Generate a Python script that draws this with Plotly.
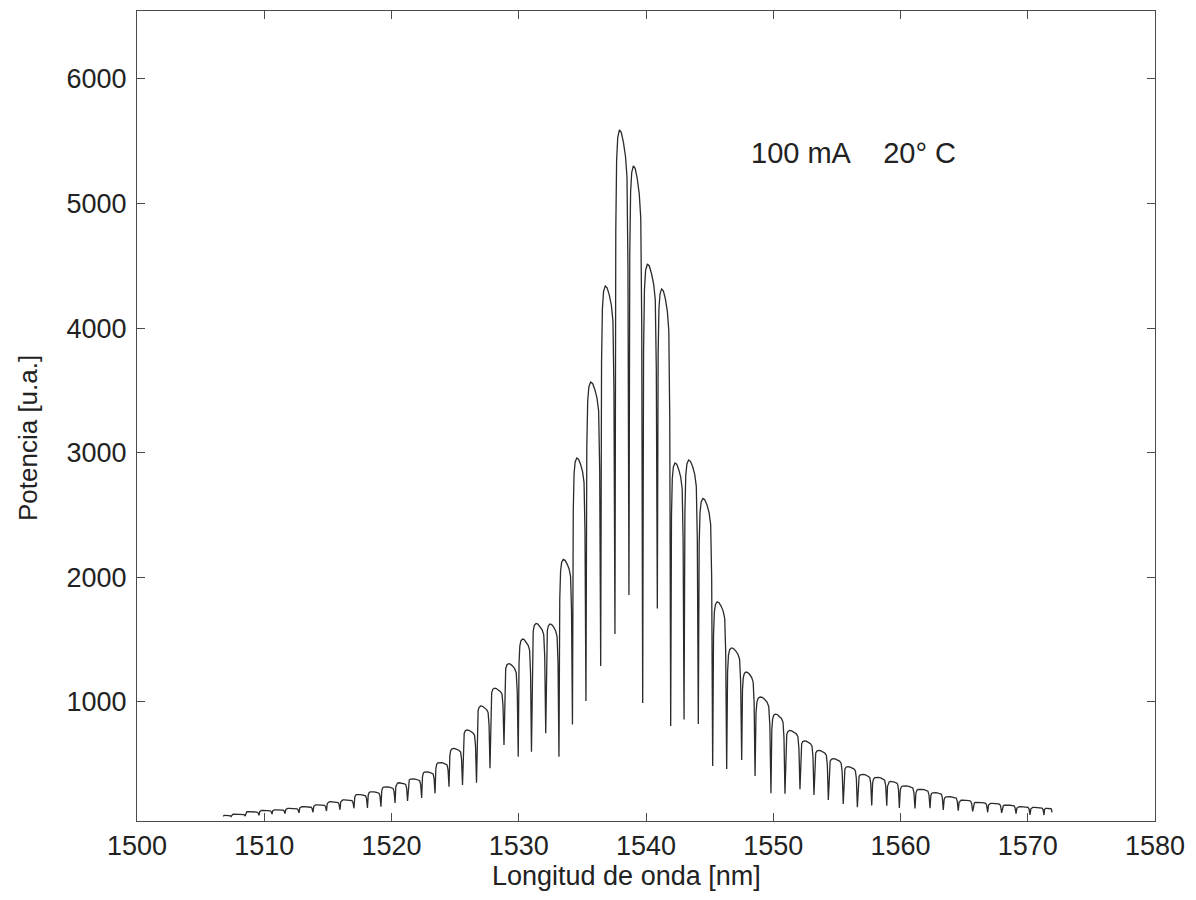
import numpy as np
import plotly.graph_objects as go

# Fabry-Perot laser spectrum, 100 mA, 20 °C
# Mode boundaries (nm): start of trace, the dips between longitudinal modes, end of trace
mode_edges_nm = [
    1506.76, 1507.39, 1508.49, 1509.59, 1510.61, 1511.63, 1512.73, 1513.83, 1514.89, 1515.95,
    1517.05, 1518.11, 1519.17, 1520.28, 1521.26, 1522.37, 1523.42, 1524.52, 1525.58, 1526.68,
    1527.74, 1528.84, 1529.96, 1531.00, 1532.12, 1533.16, 1534.22, 1535.28, 1536.44, 1537.56,
    1538.66, 1539.74, 1540.89, 1541.94, 1542.99, 1544.11, 1545.24, 1546.34, 1547.52, 1548.57,
    1549.82, 1550.92, 1552.10, 1553.20, 1554.33, 1555.50, 1556.61, 1557.74, 1558.92, 1559.91,
    1561.14, 1562.32, 1563.36, 1564.54, 1565.67, 1566.85, 1567.95, 1569.08, 1570.18, 1571.28,
    1571.91,
]

# Power at each boundary (trace start, inter-mode minima, trace end) [u.a.]
edge_power = [
    85, 80, 85, 90, 100, 105, 110, 115, 125, 135,
    147, 150, 160, 190, 205, 230, 267, 320, 334, 352,
    468, 655, 560, 600, 750, 560, 820, 1008, 1289, 1546,
    1859, 992, 1750, 807, 860, 823, 486, 462, 535, 407,
    267, 264, 300, 254, 213, 181, 155, 170, 168, 150,
    145, 147, 133, 128, 122, 115, 110, 103, 95, 93,
    115,
]

# Peak power of each longitudinal mode [u.a.]
mode_peak = [
    90, 100, 120, 130, 135, 147, 160, 175, 200, 215,
    258, 280, 320, 352, 384, 440, 515, 627, 775, 968,
    1111, 1307, 1505, 1630, 1626, 2144, 2958, 3568, 4339, 5591,
    5302, 4515, 4315, 2918, 2942, 2633, 1803, 1434, 1240, 1040,
    903, 771, 688, 612, 545, 481, 420, 396, 363, 328,
    300, 273, 240, 213, 195, 187, 173, 160, 155, 147,
]

# Outline of one mode as seen by the spectrum analyser: steep flanks, rounded top
profile_t = [0.0, 0.06, 0.12, 0.20, 0.32, 0.45, 0.60, 0.75, 0.86, 0.93]
profile_f = [0.0, 0.80, 0.94, 0.985, 1.0, 0.995, 0.975, 0.945, 0.90, 0.70]

wl, pw = [], []
for k, peak in enumerate(mode_peak):
    x0, x1 = mode_edges_nm[k], mode_edges_nm[k + 1]
    d0, d1 = edge_power[k], edge_power[k + 1]
    for t, f in zip(profile_t, profile_f):
        base = d0 + (d1 - d0) * t
        wl.append(x0 + (x1 - x0) * t)
        pw.append(base + (peak - base) * f)
wl.append(mode_edges_nm[-1])
pw.append(edge_power[-1])

FONT = "Liberation Sans, Arial, Helvetica, sans-serif"
INK = "#2b2b2b"
TEXT = "#222222"

fig = go.Figure()
fig.add_trace(go.Scatter(
    x=wl, y=pw, mode="lines",
    line=dict(color=INK, width=1.3),
    hoverinfo="skip", showlegend=False,
))

axis_common = dict(
    showgrid=False, zeroline=False,
    showline=True, linecolor="#4a4a4a", linewidth=1.2, mirror="ticks",
    ticks="inside", ticklen=8, tickwidth=1.2, tickcolor="#4a4a4a",
    tickfont=dict(family=FONT, size=27, color=TEXT),
)

fig.update_xaxes(range=[1500, 1580], tick0=1500, dtick=10, **axis_common)
fig.update_yaxes(range=[45, 6545], tick0=0, dtick=1000,
                 ticklabelstandoff=4, **axis_common)

fig.add_annotation(
    x=1548.1, y=5406, xref="x", yref="y",
    text="100 mA&nbsp;&nbsp;&nbsp;&nbsp;20° C", showarrow=False,
    xanchor="left", yanchor="middle",
    font=dict(family=FONT, size=29, color=TEXT),
)
fig.add_annotation(
    x=0.4813, y=-0.0679, xref="paper", yref="paper",
    text="Longitud de onda [nm]", showarrow=False,
    xanchor="center", yanchor="middle",
    font=dict(family=FONT, size=27, color=TEXT),
)
fig.add_annotation(
    x=-0.1071, y=0.4728, xref="paper", yref="paper",
    text="Potencia [u.a.]", showarrow=False, textangle=-90,
    xanchor="center", yanchor="middle",
    font=dict(family=FONT, size=26, color=TEXT),
)

fig.update_layout(
    width=1196, height=900,
    margin=dict(l=137, r=41, t=11, b=79),
    paper_bgcolor="white", plot_bgcolor="white",
)

fig.write_html("out.html")
